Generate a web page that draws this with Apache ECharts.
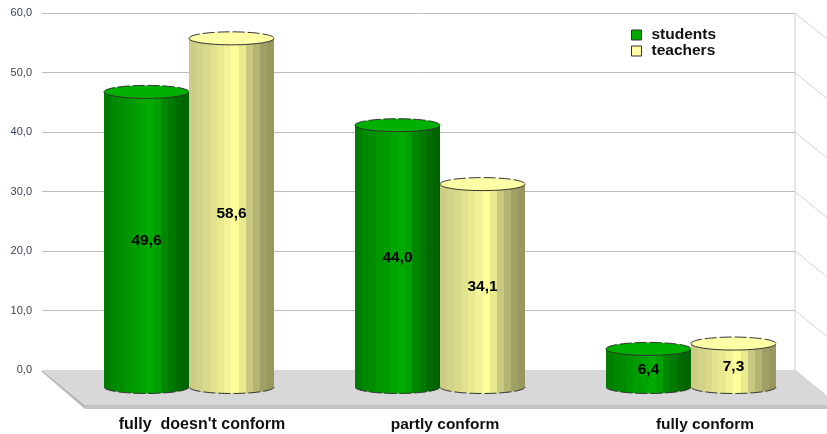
<!DOCTYPE html>
<html>
<head>
<meta charset="utf-8">
<style>html,body{margin:0;padding:0;background:#fff}#chart{width:827px;height:434px}</style>
<script src="https://cdn.jsdelivr.net/npm/echarts@6/dist/echarts.min.js"></script>
</head>
<body>
<div id="chart"></div>
<script>
// Survey answers per group, in percent
const categories = ["fully  doesn't conform", "partly conform", "fully conform"];
const students = [49.6, 44.0, 6.4];
const teachers = [58.6, 34.1, 7.3];
const wallTicks = [0, 10, 20, 30, 40, 50, 60];

// Vertical shading bands of each cylinder, left to right
const greenBands = ['#007e00','#008800','#008e00','#009600','#009c00','#00a400','#00aa00','#00a000','#008600','#007a00','#006c00','#006400'];
const yellowBands = ['#cccc84','#d2d288','#d9d98c','#e2e28e','#e9e990','#f2f296','#ffff99','#e9e98e','#c8c880','#b4b474','#a0a066','#98985e'];
const greenTop = '#00b000';
const yellowTop = '#ffffa6';

const ELLIPSE_RY = 6.5;
const BAR_RATIO = 85 / 251;
const FLOOR_DX = 43, FLOOR_DY = 35, FLOOR_EDGE = 4;
const INK = '#303030';

function bandGradient(bands) {
  const stops = [];
  bands.forEach((c, i) => {
    stops.push({ offset: i / bands.length, color: c });
    stops.push({ offset: (i + 1) / bands.length, color: c });
  });
  return { type: 'linear', x: 0, y: 0, x2: 1, y2: 0, colorStops: stops };
}

// Points along an elliptical arc from angle a0 to a1
function arc(cx, cy, rx, ry, a0, a1) {
  const pts = [], n = 40;
  for (let i = 0; i <= n; i++) {
    const a = a0 + (a1 - a0) * i / n;
    pts.push([cx + rx * Math.cos(a), cy + ry * Math.sin(a)]);
  }
  return pts;
}

function cylinder(side, bands, topColor) {
  return function (params, api) {
    const idx = api.value(0), val = api.value(1);
    const band = api.size([1, 0])[0];
    const w = band * BAR_RATIO, rx = w / 2;
    const centre = api.coord([idx, 0])[0] + side * rx;
    const yBase = api.coord([idx, 0])[1];
    const yTop = api.coord([idx, val])[1];
    const left = centre - rx, right = centre + rx;
    const front = arc(centre, yBase, rx, ELLIPSE_RY, 0, Math.PI);
    const body = [[left, yTop], [right, yTop]].concat(front);
    return {
      type: 'group',
      children: [
        { type: 'polygon', shape: { points: body }, style: { fill: bandGradient(bands) } },
        { type: 'polyline', shape: { points: front }, style: { fill: null, stroke: INK, lineWidth: 1, lineDash: [12, 3] } },
        { type: 'polygon', shape: { points: arc(centre, yTop, rx, ELLIPSE_RY, 0, Math.PI * 2) }, style: { fill: topColor } },
        { type: 'polyline', shape: { points: arc(centre, yTop, rx, ELLIPSE_RY, Math.PI, Math.PI * 2) }, style: { fill: null, stroke: INK, lineWidth: 1, lineDash: [12, 3] } },
        { type: 'polyline', shape: { points: arc(centre, yTop, rx, ELLIPSE_RY, 0, Math.PI) }, style: { fill: null, stroke: INK, lineWidth: 1 } },
        { type: 'text', style: {
            x: centre, y: (yTop + yBase) / 2 + 1.5,
            text: val.toFixed(1).replace('.', ','),
            fill: '#000', font: 'bold 15.5px "Liberation Sans"', align: 'center', verticalAlign: 'middle'
        } }
      ]
    };
  };
}

// Floor plate and the receding side wall of the 3D frame
function frame(params, api) {
  const backL = api.coord([0, 0]), backR = api.coord([1, 0]);
  const children = [
    { type: 'polygon', shape: { points: [
        [backL[0], backL[1]], [backL[0] + FLOOR_DX, backL[1] + FLOOR_DY],
        [backL[0] + FLOOR_DX, backL[1] + FLOOR_DY + FLOOR_EDGE], [backL[0], backL[1] + 2]
      ] }, style: { fill: '#b8b8b8' } },
    { type: 'rect', shape: { x: backL[0] + FLOOR_DX, y: backL[1] + FLOOR_DY, width: backR[0] - backL[0] + 10, height: FLOOR_EDGE }, style: { fill: '#c4c4c4' } },
    { type: 'polygon', shape: { points: [
        backL, backR, [backR[0] + FLOOR_DX, backR[1] + FLOOR_DY], [backL[0] + FLOOR_DX, backL[1] + FLOOR_DY]
      ] }, style: { fill: '#d8d8d8' } },
    { type: 'line', shape: { x1: backR[0], y1: api.coord([1, 60])[1], x2: backR[0], y2: backR[1] }, style: { stroke: '#cfcfcf', lineWidth: 1 } }
  ];
  wallTicks.forEach(t => {
    const p = api.coord([1, t]);
    children.push({ type: 'line', shape: { x1: p[0], y1: p[1], x2: p[0] + FLOOR_DX, y2: p[1] + FLOOR_DY }, style: { stroke: '#d4d4d4', lineWidth: 1 } });
  });
  return { type: 'group', children };
}

// Category captions sit slightly right of their band centre
const labelStyles = { c0: [26, 16], c1: [10, 15.5], c2: [28, 15.5] };
const labelRich = {};
Object.keys(labelStyles).forEach(k => {
  labelRich[k] = { padding: [0, 0, 0, labelStyles[k][0]], fontSize: labelStyles[k][1], fontWeight: 'bold', color: '#111', fontFamily: 'Liberation Sans' };
});

const chart = echarts.init(document.getElementById('chart'), null, { renderer: 'canvas' });
chart.setOption({
  animation: false,
  backgroundColor: '#fff',
  legend: {
    orient: 'vertical', left: 631, top: 27, padding: 0, itemWidth: 10, itemHeight: 10, itemGap: 0,
    selectedMode: false,
    textStyle: { fontFamily: 'Liberation Sans', fontSize: 15.5, fontWeight: 'bold', color: '#111', padding: [0, 0, 0, 5] },
    data: [
      { name: 'students', icon: 'rect', itemStyle: { color: '#00a800', borderColor: '#333', borderWidth: 1 } },
      { name: 'teachers', icon: 'rect', itemStyle: { color: '#ffffa6', borderColor: '#333', borderWidth: 1 } }
    ]
  },
  grid: [
    { left: 42, right: 32, top: 13, height: 357 },
    { left: 63.5, width: 753, top: 30, height: 357 }
  ],
  xAxis: [
    { gridIndex: 0, type: 'value', min: 0, max: 1, show: false },
    {
      gridIndex: 1, type: 'category', data: categories,
      axisLine: { show: false }, axisTick: { show: false },
      axisLabel: {
        margin: 30, interval: 0,
        formatter: (v, i) => '{c' + i + '|' + v + '}',
        rich: labelRich
      }
    }
  ],
  yAxis: [
    {
      gridIndex: 0, type: 'value', min: 0, max: 60, interval: 10,
      axisLine: { show: false }, axisTick: { show: false },
      axisLabel: { margin: 10, fontSize: 11, color: '#3a4356', fontFamily: 'Liberation Sans', formatter: v => v.toFixed(1).replace('.', ',') },
      splitLine: { show: true, lineStyle: { color: '#bdbdbd', width: 1 } }
    },
    { gridIndex: 1, type: 'value', min: 0, max: 60, interval: 10, show: false }
  ],
  series: [
    { type: 'custom', name: 'frame', xAxisIndex: 0, yAxisIndex: 0, z: 1, silent: true, clip: false, renderItem: frame, data: [[0, 0]] },
    { type: 'custom', name: 'students', xAxisIndex: 1, yAxisIndex: 1, z: 3, clip: false, itemStyle: { color: '#00a800' },
      renderItem: cylinder(-1, greenBands, greenTop), data: students.map((v, i) => [i, v]) },
    { type: 'custom', name: 'teachers', xAxisIndex: 1, yAxisIndex: 1, z: 3, clip: false, itemStyle: { color: '#ffffa6' },
      renderItem: cylinder(1, yellowBands, yellowTop), data: teachers.map((v, i) => [i, v]) }
  ]
});
</script>
</body>
</html>
